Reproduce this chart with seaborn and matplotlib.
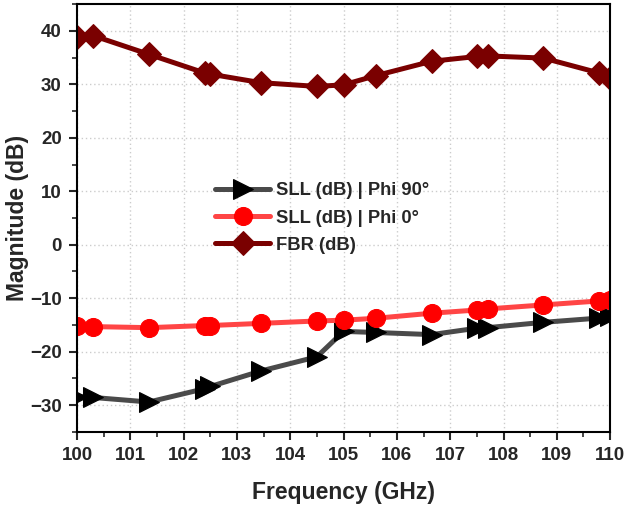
import matplotlib
matplotlib.use("Agg")
import matplotlib.pyplot as plt
import seaborn as sns
import pandas as pd
from matplotlib.ticker import MultipleLocator

freq = [100.0, 100.3, 101.35, 102.4, 102.5, 103.45, 104.5, 105.0, 105.6,
        106.65, 107.5, 107.7, 108.75, 109.8, 110.0]
sll_phi90 = [-28.4, -28.55, -29.4, -26.9, -26.5, -23.6, -20.95, -16.2, -16.4,
             -16.8, -15.6, -15.5, -14.5, -13.7, -13.3]
sll_phi0 = [-15.1, -15.3, -15.5, -15.1, -15.1, -14.7, -14.25, -14.1, -13.75,
            -12.8, -12.2, -12.0, -11.25, -10.5, -10.4]
fbr = [38.9, 39.1, 35.6, 32.1, 31.9, 30.3, 29.6, 29.9, 31.6,
       34.3, 35.2, 35.3, 34.9, 32.1, 31.2]

labels = ["SLL (dB) | Phi 90°", "SLL (dB) | Phi 0°", "FBR (dB)"]

sns.set_style("ticks")
plt.rcParams['font.family'] = ['Liberation Sans', 'DejaVu Sans']
plt.rcParams['font.weight'] = 'bold'

fig = plt.figure(figsize=(6.29, 5.07), dpi=100)
ax = fig.add_axes([0.1224, 0.148, 0.8476, 0.844])

df = pd.DataFrame({"freq": freq, "p90": sll_phi90, "p0": sll_phi0, "fbr": fbr})

sns.lineplot(data=df, x="freq", y="p90", ax=ax, color="#4a4a4a", lw=3.6,
             marker=">", markersize=14, markerfacecolor="black",
             markeredgecolor="black", label=labels[0])
sns.lineplot(data=df, x="freq", y="p0", ax=ax, color="#ff4545", lw=3.6,
             marker="o", markersize=13, markerfacecolor="#ff0000",
             markeredgecolor="#ff0000", label=labels[1])
sns.lineplot(data=df, x="freq", y="fbr", ax=ax, color="#7a0000", lw=3.6,
             marker="D", markersize=12, markerfacecolor="#7a0000",
             markeredgecolor="#7a0000", label=labels[2])

ax.set_xlim(100, 110)
ax.set_ylim(-35, 45)
ax.xaxis.set_major_locator(MultipleLocator(1))
ax.xaxis.set_minor_locator(MultipleLocator(0.5))
ax.yaxis.set_major_locator(MultipleLocator(10))
ax.yaxis.set_minor_locator(MultipleLocator(5))
ax.grid(True, which="major", linestyle=(0, (1, 2)), color="#cccccc", lw=1)
ax.tick_params(which="major", length=6, width=1.5, direction="out",
               labelsize=13.5, pad=5)
ax.tick_params(which="minor", length=3.5, width=1.2, direction="out")
for lbl in ax.get_xticklabels() + ax.get_yticklabels():
    lbl.set_fontweight("bold")
for s in ax.spines.values():
    s.set_linewidth(1.5)
    s.set_color("black")

ax.set_xlabel("Frequency (GHz)", fontsize=16.5, fontweight="bold", labelpad=12)
ax.set_ylabel("Magnitude (dB)", fontsize=16.5, fontweight="bold", labelpad=1)

leg = ax.legend(loc="center", bbox_to_anchor=(0.46, 0.5), frameon=False,
                prop={"weight": "bold", "size": 13.2}, handlelength=3.0,
                labelspacing=0.55, handletextpad=0.3)

fig.savefig("out.png", dpi=100)
